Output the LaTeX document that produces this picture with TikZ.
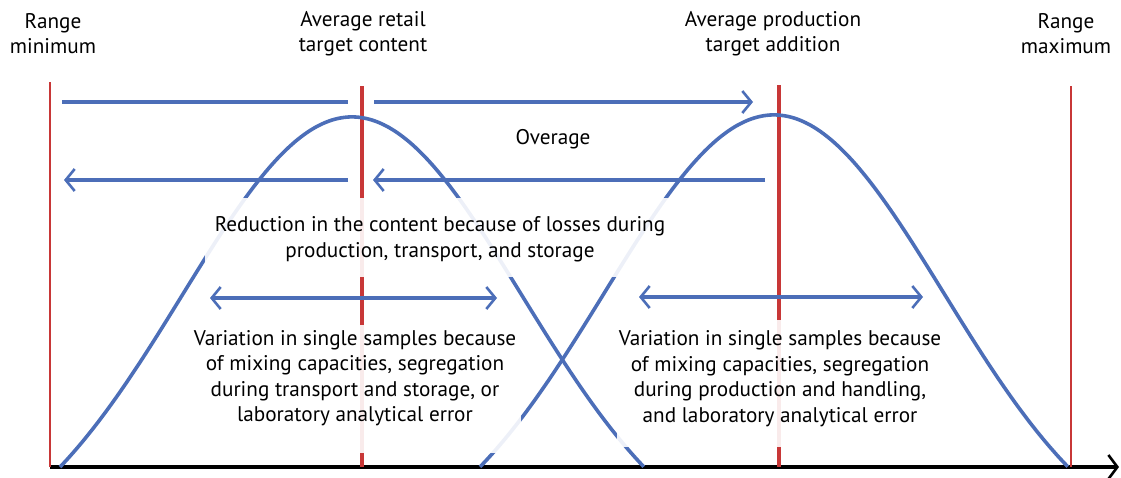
\documentclass[tikz,border=0pt]{standalone}
\usepackage{fontspec}
\setmainfont{PT Sans}
\usetikzlibrary{arrows.meta}
\definecolor{cblue}{RGB}{76,110,184}
\definecolor{cred}{RGB}{200,55,55}
\tikzset{
  x=1pt, y=-1pt,
  redthin/.style={cred, line width=1.8pt},
  redthick/.style={cred, line width=4pt},
  bluearrow/.style={cblue, line width=3.6pt, -{Straight Barb[length=9pt,width=22pt,line width=2.6pt]}},
  bluedouble/.style={cblue, line width=3.6pt, {Straight Barb[length=9pt,width=22pt,line width=2.6pt]}-{Straight Barb[length=9pt,width=22pt,line width=2.6pt]}},
  blueline/.style={cblue, line width=3.6pt},
  curve/.style={cblue, line width=3.6pt},
  lbl/.style={align=center, font=\fontsize{21.2}{25.5}\selectfont, inner sep=0pt},
  bgbox/.style={fill=white, fill opacity=0.9, draw=none, inner sep=0pt},
}
\begin{document}
\begin{tikzpicture}
\useasboundingbox (0,0) rectangle (1121,477);
% axis
\coordinate (ax0) at (50,467);
\coordinate (ax1) at (1119,467);
\draw[line width=4pt, -{Straight Barb[length=9pt,width=24pt,line width=2.6pt]}] (ax0) -- (ax1);
% vertical lines
\coordinate (minT) at (50,82);   \coordinate (minB) at (50,467);
\coordinate (retT) at (362,86);  \coordinate (retB) at (362,467);
\coordinate (proT) at (779,85);  \coordinate (proB) at (779,467);
\coordinate (maxT) at (1071,86); \coordinate (maxB) at (1071,467);
\draw[redthin] (minT) -- (minB);
\draw[redthick] (retT) -- (retB);
\draw[redthick] (proT) -- (proB);
\draw[redthin] (maxT) -- (maxB);
% curves (shifted Gaussians)
\def\sig{170}
\def\wl{1.7176}
\def\ez{0.2288}
\draw[curve, smooth, samples=120, domain=-\wl:\wl, variable=\t]
  plot ({352+\sig*\t}, {467-350*(exp(-\t*\t/2)-\ez)/(1-\ez)});
\draw[curve, smooth, samples=120, domain=-1.7294:1.7294, variable=\t]
  plot ({774+\sig*\t}, {467-352*(exp(-\t*\t/2)-0.2240)/(1-0.2240)});
% arrows
\coordinate (r1a) at (62,102);  \coordinate (r1b) at (348,102);
\coordinate (r1c) at (374,102); \coordinate (r1d) at (753,102);
\draw[blueline] (r1a) -- (r1b);
\draw[bluearrow] (r1c) -- (r1d);
\coordinate (r2a) at (348,180); \coordinate (r2b) at (64,180);
\coordinate (r2c) at (765,180); \coordinate (r2d) at (373,180);
\draw[bluearrow] (r2a) -- (r2b);
\draw[bluearrow] (r2c) -- (r2d);
\coordinate (r3a) at (210,298); \coordinate (r3b) at (497,298);
\coordinate (r3c) at (639,297); \coordinate (r3d) at (923,297);
\draw[bluedouble] (r3a) -- (r3b);
\draw[bluedouble] (r3c) -- (r3d);
% background boxes
\node[bgbox, minimum width=470pt, minimum height=79pt] (bgR) at (440,237.5) {};
\node[bgbox, minimum width=332pt, minimum height=128pt] (bgL) at (355,389) {};
\node[bgbox, minimum width=326pt, minimum height=127pt] (bgP) at (780,383.5) {};
% labels
\node[lbl] (tmin) at (53,33.5) {Range\\minimum};
\node[lbl] (tret) at (363,33.5) {Average retail\\target content};
\node[lbl] (tpro) at (773,33.5) {Average production\\target addition};
\node[lbl] (tmax) at (1066,33.5) {Range\\maximum};
\node[lbl] (tover) at (553,139) {Overage};
\node[lbl] (tred) at (440,239) {Reduction in the content because of losses during\\production, transport, and storage};
\node[lbl] (tvl) at (355,378) {Variation in single samples because\\of mixing capacities, segregation\\during transport and storage, or\\laboratory analytical error};
\node[lbl] (tvp) at (780,378.5) {Variation in single samples because\\of mixing capacities, segregation\\during production and handling,\\and laboratory analytical error};
\end{tikzpicture}
\end{document}
